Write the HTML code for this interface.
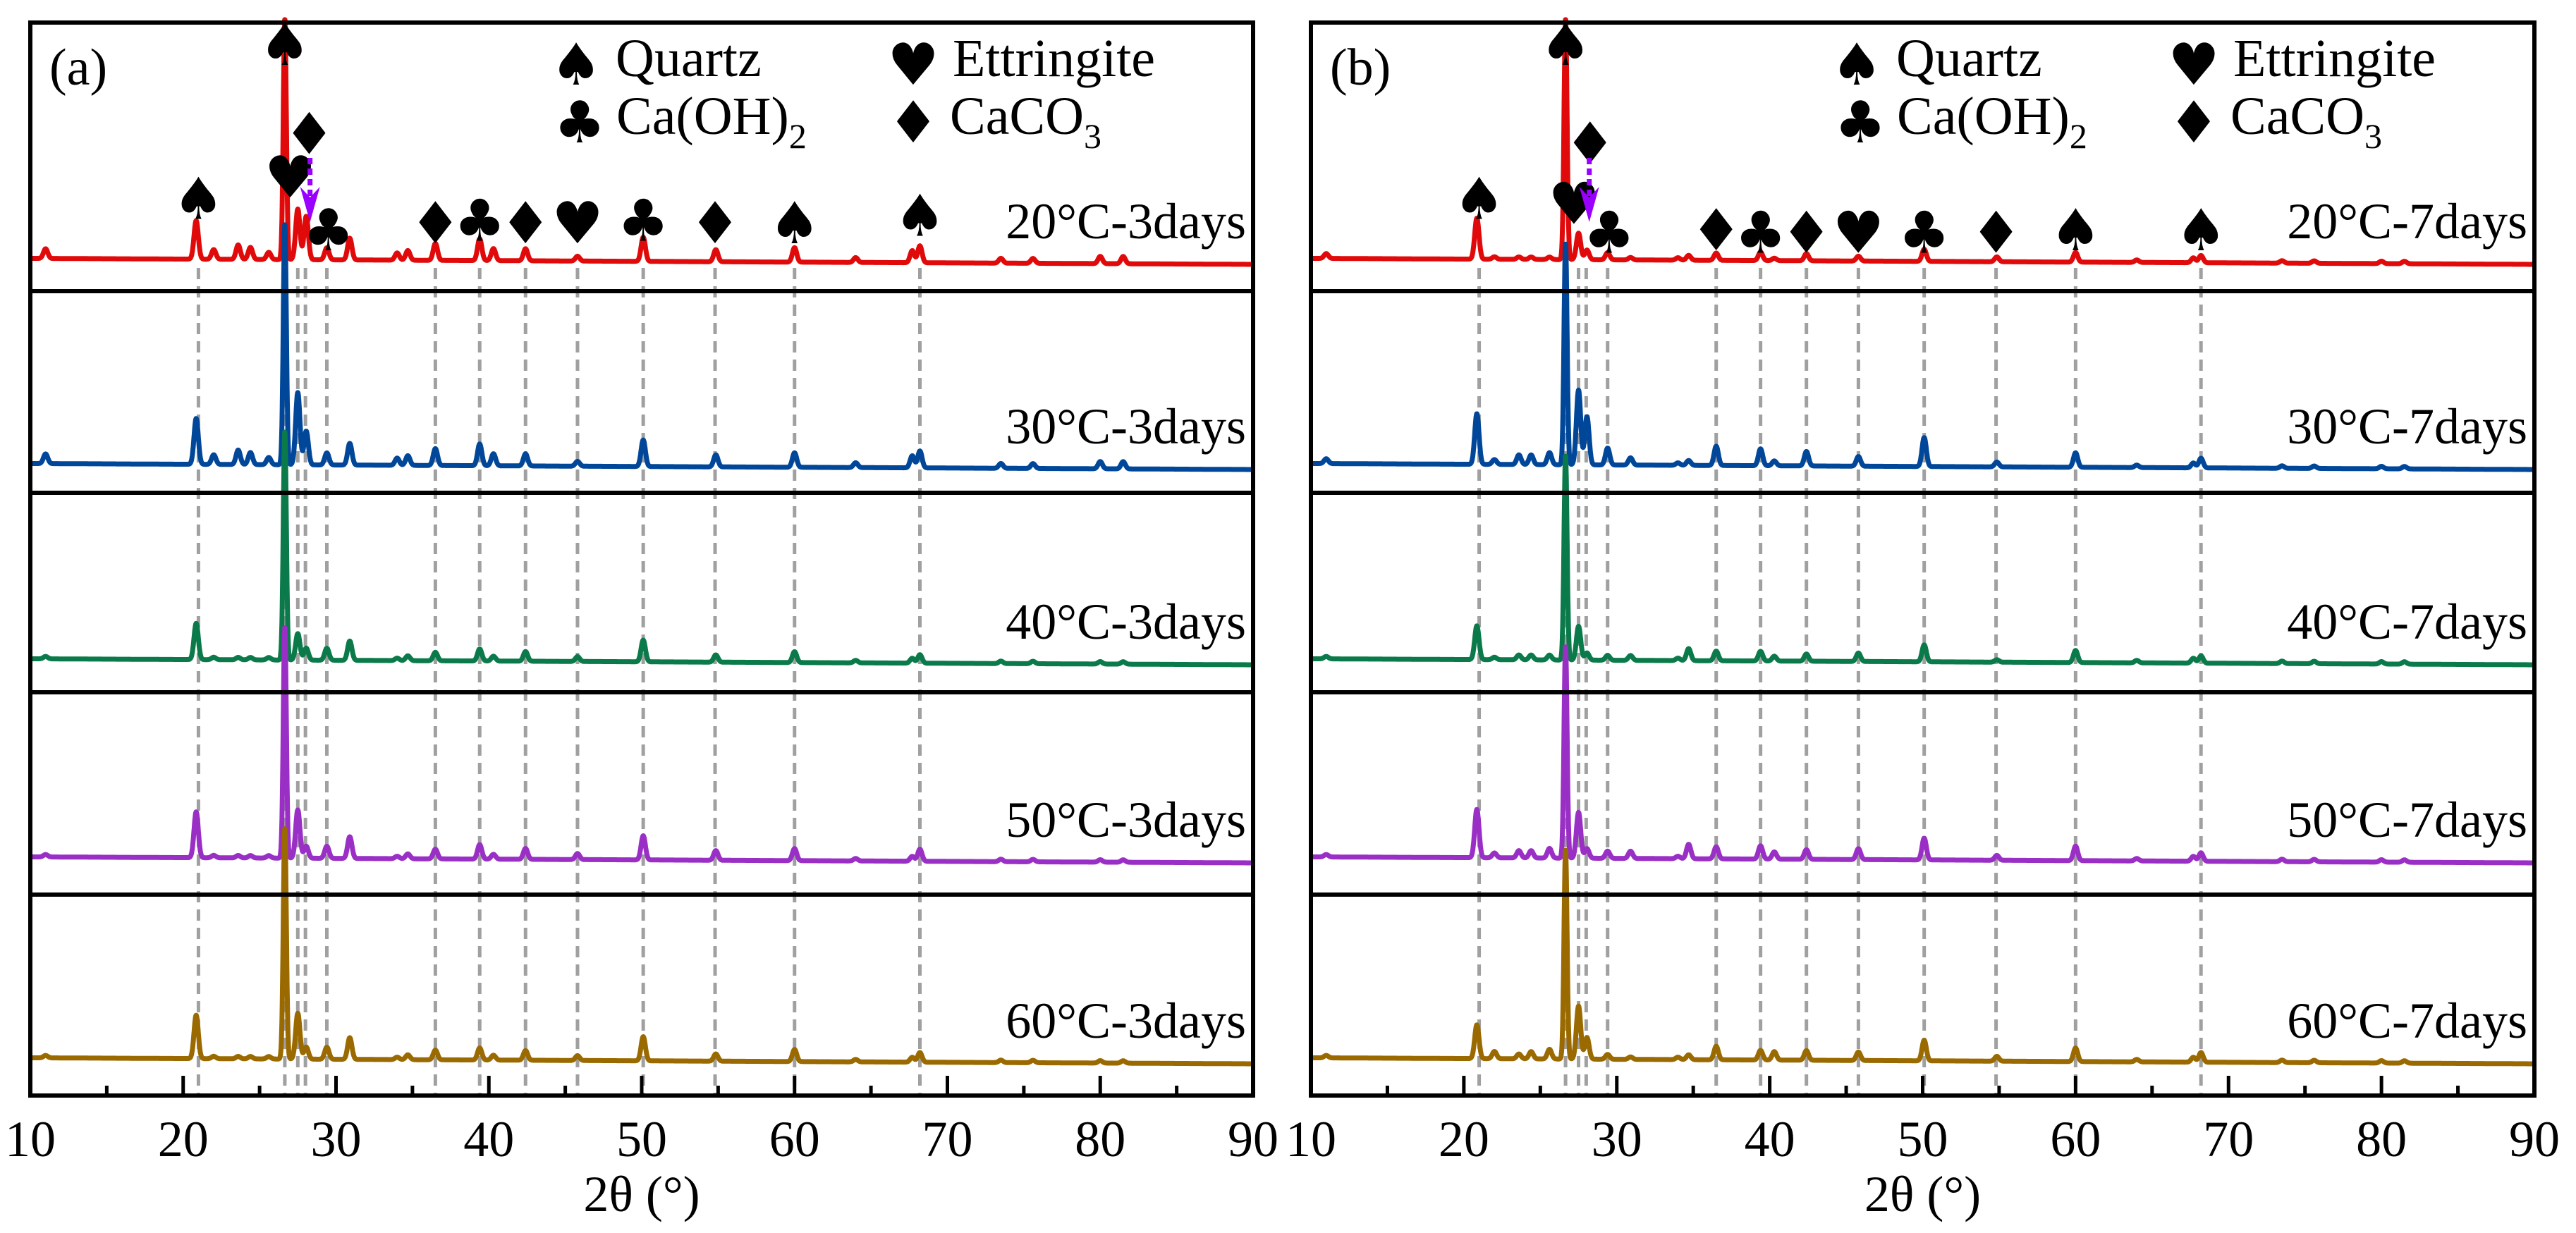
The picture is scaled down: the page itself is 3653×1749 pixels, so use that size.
<!DOCTYPE html>
<html><head><meta charset="utf-8">
<style>
html,body{margin:0;padding:0;background:#fff;}
svg{display:block;}
</style></head>
<body>
<svg id="chart" width="3653" height="1749" viewBox="0 0 3653 1749" xmlns="http://www.w3.org/2000/svg" font-family="'Liberation Serif', 'Times New Roman', serif"></svg>
<script>
// ---------- data ----------
const xTicks = [10,20,30,40,50,60,70,80,90];
const refLines = [21.0,26.65,27.5,28.0,29.4,36.5,39.4,42.4,45.8,50.1,54.8,60.0,68.2];
const peakPos = [11.0,20.85,22.0,23.6,24.4,25.6,26.65,27.5,28.05,29.4,30.9,34.0,34.7,36.5,39.4,40.3,42.4,45.8,50.1,54.85,60.0,64.0,67.7,68.2,73.5,75.6,80.0,81.5];
const labelsA = ["20°C-3days","30°C-3days","40°C-3days","50°C-3days","60°C-3days"];
const labelsB = ["20°C-7days","30°C-7days","40°C-7days","50°C-7days","60°C-7days"];
const red3    = [4,16,4,6,5,3,100,21,18,5,9,3,4,7,9,5,5,2,10,5,6,2,5,7,2,2,3,3];
const blue3   = [4,19,4,6,5,3,100,30,14,5,9,3,4,7,9,5,5,2,11,5,6,2,5,7,2,2,3,3];
const green3  = [1,15,1,1,1,1,95,11,5,5,8,1,2,3.5,5,2,4,2,9,3,4.5,1,2,3.5,1,1,1,1];
const purple3 = [1,19,1,1,1,1,96,20,5,5,9,1,2,4,6,2,4.5,2.5,10,4,5,1,2,5,1,1,1,1];
const brown3  = [1,18,1,1,1,1,96,19,5,5,9,1,2,4,5,2,4,2,10,3,5,1,2,4,1,1,1,1];
const red7    = [2,17,1,1,1,1,100,11,4,3,1,1,2,3,3.5,1,3,2,5,2,4,1,2,3,1,1,1,1];
const blue7   = [2,21,2,4,4,5,92,31,20,7,3,1,2,8,7,2,6,4,12,2,6,1,2,4,1,1,1,1];
const green7  = [1,14,1,2,2,2,85,14,3,2,2,1,5,4,4,2,3,3.5,7,1,5,1,2,3,1,1,1,1];
const purple7 = [1,20,2,3,3,4,88,19,4,3,3,1,6,5,5.5,3,4,4.5,9,2,6,1,2,3.5,1,1,1,1];
const brown7  = [1,14,3,2,3,4,87,22,9,2,1,1,2,5.6,4,3.5,4,3.5,8.5,2,5.6,1,2,4,1,1,1,1];
const markerSymA = ["♠","♠","♥","♦","♣","♦","♣","♦","♥","♣","♦","♠","♠"];
const markerPosA = [21.0,26.65,27.0,28.25,29.5,36.5,39.4,42.4,45.8,50.1,54.8,60.0,68.2];
const markerHtA  = [27,91,36,54,14,17,18,17,17,18,17,17,20];
const markerSymB = ["♠","♠","♥","♦","♣","♦","♣","♦","♥","♣","♦","♠","♠"];
const markerPosB = [21.0,26.65,27.2,28.25,29.5,36.5,39.4,42.4,45.8,50.1,54.8,60.0,68.2];
const markerHtB  = [27,91,25,50,13,14,13,13,13,13,13,14,14];

// ---------- layout ----------
const NS="http://www.w3.org/2000/svg";
const svg=document.getElementById('chart');
const SERIF="'Liberation Serif', 'Times New Roman', serif";
const SYM="'DejaVu Sans', sans-serif";
function el(tag,attrs,parent){const e=document.createElementNS(NS,tag);for(const k in attrs)e.setAttribute(k,attrs[k]);(parent||svg).appendChild(e);return e;}
const colors=["#e00a0a","#00479a","#0b7a4a","#9a2fc6","#9a6a00"];
const seps=[32,413,699,982,1269,1554];
const baseYs=[375,666,943,1224,1509];
const yScale=3.42;

function panel(x0,x1,tag,series,labels,mSym,mPos,mHt,arrowX){
  const sx=v=>x0+(v-10)/80*(x1-x0);
  const g=el('g',{});
  
  
  refLines.forEach(v=>{
    const l=el('line',{x1:sx(v),x2:sx(v),y1:380,y2:1552,stroke:'#a0a0a0','stroke-width':5,'stroke-dasharray':'16 10'},g);
    
    
  });
  series.forEach((h,si)=>{
    let d='';
    for(let i=0;i<=4000;i++){
      const x=10+i*0.02;
      let y=0;
      for(let k=0;k<peakPos.length;k++){
        const s=(k===6)?0.1:0.14;
        const dx=(x-peakPos[k])/s;
        y+=h[k]*Math.exp(-0.5*dx*dx);
      }
      y+=2.5*(90-x)/80;
      d+=(i?'L':'M')+sx(x).toFixed(1)+' '+(baseYs[si]-y*yScale).toFixed(1);
    }
    const p=el('path',{d:d,fill:'none',stroke:colors[si],'stroke-width':7,'stroke-linejoin':'round'},g);
    
    
    const t=el('text',{x:x1-10,y:baseYs[si]-37,'font-size':72,'text-anchor':'end','font-family':SERIF},g);
    t.textContent=labels[si];
    
    
  });
  for(let i=1;i<5;i++){
    const l=el('line',{x1:x0,x2:x1,y1:seps[i],y2:seps[i],stroke:'#000','stroke-width':6},g);
    
    
  }
  const fr=el('rect',{x:x0,y:seps[0],width:x1-x0,height:seps[5]-seps[0],fill:'none',stroke:'#000','stroke-width':6},g);
  
  
  for(let v=10;v<=90;v+=5){
    const major=v%10===0;
    const l=el('line',{x1:sx(v),x2:sx(v),y1:1554,y2:1554-(major?28:14),stroke:'#000','stroke-width':5},g);
    
    
  }
  xTicks.forEach(v=>{
    const t=el('text',{x:sx(v),y:1640,'font-size':72,'text-anchor':'middle','font-family':SERIF},g);
    t.textContent=v;
    
    
  });
  const at=el('text',{x:(x0+x1)/2,y:1718,'font-size':72,'text-anchor':'middle','font-family':SERIF},g);
  at.textContent='2θ (°)';
  
  
  const pl=el('text',{x:x0+27,y:120,'font-size':74,'font-family':SERIF},g);
  pl.textContent='('+tag+')';
  
  
  mSym.forEach((s,i)=>{
    const t=el('text',{x:sx(mPos[i]),y:baseYs[0]-mHt[i]*yScale+28,'font-size':82,'text-anchor':'middle','font-family':SYM},g);
    t.textContent=s;
    
    
  });
  const ax=sx(arrowX);
  const ar=el('line',{x1:ax,x2:ax,y1:224,y2:282,stroke:'#9900ff','stroke-width':7,'stroke-dasharray':'9 6'},g);
  
  
  const ah=el('path',{d:`M${ax-14} 265 L${ax} 315 L${ax+14} 265 L${ax} 280 Z`,fill:'#9900ff'},g);
  
  
  const lx=x0+774;
  const leg=[["♠","Quartz",lx,90,""],["♥","Ettringite",lx+478,90,""],["♣","Ca(OH)",lx+5,172,"2"],["♦","CaCO",lx+478,172,"3"]];
  leg.forEach(e=>{
    const s=el('text',{x:e[2],y:e[3]+30,'font-size':82,'text-anchor':'middle','font-family':SYM},g);
    s.textContent=e[0];
    
    
    const t=el('text',{x:e[2]+(e[4]?52:56),y:e[3]+18,'font-size':76,'font-family':SERIF},g);
    
    
    t.appendChild(document.createTextNode(e[1]));
    if(e[4]){const ts=el('tspan',{'font-size':50,dy:20},t);ts.textContent=e[4];}
  });
}
panel(43,1777,'a',[red3,blue3,green3,purple3,brown3],labelsA,markerSymA,markerPosA,markerHtA,28.3);
panel(1859,3594,'b',[red7,blue7,green7,purple7,brown7],labelsB,markerSymB,markerPosB,markerHtB,28.2);
</script>
</body></html>
